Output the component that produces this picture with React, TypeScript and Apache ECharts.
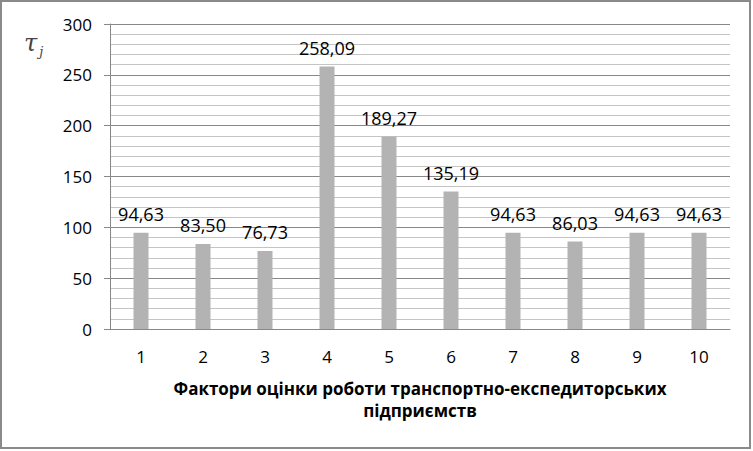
import React, { useEffect, useRef } from "react";
import * as echarts from "echarts";

const categories = ["1", "2", "3", "4", "5", "6", "7", "8", "9", "10"];
const values = [94.63, 83.5, 76.73, 258.09, 189.27, 135.19, 94.63, 86.03, 94.63, 94.63];
const xTitle = "Фактори оцінки роботи транспортно-експедиторських\nпідприємств";

export default function App() {
  const ref = useRef<HTMLDivElement>(null);
  useEffect(() => {
    document.body.style.margin = "0";
    const chart = echarts.init(ref.current!, null, { renderer: "svg" });
    const font = "'Open Sans', sans-serif";
    chart.setOption({
      animation: false,
      backgroundColor: "#ffffff",
      grid: { left: 110, right: 23, top: 24, bottom: 122 },
      graphic: [
        {
          type: "rect",
          shape: { x: 1, y: 1, width: 749, height: 447 },
          style: { fill: "none", stroke: "#8a8a8a", lineWidth: 2 },
          silent: true,
        },
        {
          type: "text",
          left: 24,
          top: 31,
          style: {
            text: "{t|τ}{s|j}",
            rich: {
              t: { fontFamily: "'DejaVu Serif', 'Liberation Serif', serif", fontStyle: "italic", fontSize: 24, fill: "#444" },
              s: { fontFamily: "'DejaVu Serif', 'Liberation Serif', serif", fontStyle: "italic", fontSize: 13, fill: "#444", padding: [16, 0, 0, 2] },
            },
          },
        },
      ],
      xAxis: {
        type: "category",
        data: categories,
        axisLine: { show: true, lineStyle: { color: "#888", width: 1 } },
        axisTick: { show: false },
        axisLabel: { color: "#000", fontFamily: font, fontSize: 17, margin: 19 },
        name: xTitle,
        nameLocation: "middle",
        nameGap: 48,
        nameTextStyle: { color: "#000", fontFamily: font, fontSize: 17, fontWeight: "bold", lineHeight: 22 },
      },
      yAxis: {
        type: "value",
        min: 0,
        max: 300,
        interval: 50,
        axisLine: { show: true, lineStyle: { color: "#888", width: 1 } },
        axisTick: { show: true, length: 6, lineStyle: { color: "#888" } },
        axisLabel: { color: "#000", fontFamily: font, fontSize: 17, margin: 18 },
        splitLine: { show: true, lineStyle: { color: "#888", width: 1 } },
        minorTick: { show: false, splitNumber: 5 },
        minorSplitLine: { show: true, lineStyle: { color: "#c4c4c4", width: 1 } },
      },
      series: [
        {
          type: "bar",
          data: values,
          barWidth: 15,
          itemStyle: { color: "#b3b3b3" },
          label: {
            show: true,
            position: "top",
            distance: 10,
            color: "#000",
            fontFamily: font,
            fontSize: 18,
            formatter: (p: any) => p.value.toFixed(2).replace(".", ","),
          },
        },
      ],
    });
    return () => chart.dispose();
  }, []);
  return <div ref={ref} style={{ width: 753, height: 451 }} />;
}
